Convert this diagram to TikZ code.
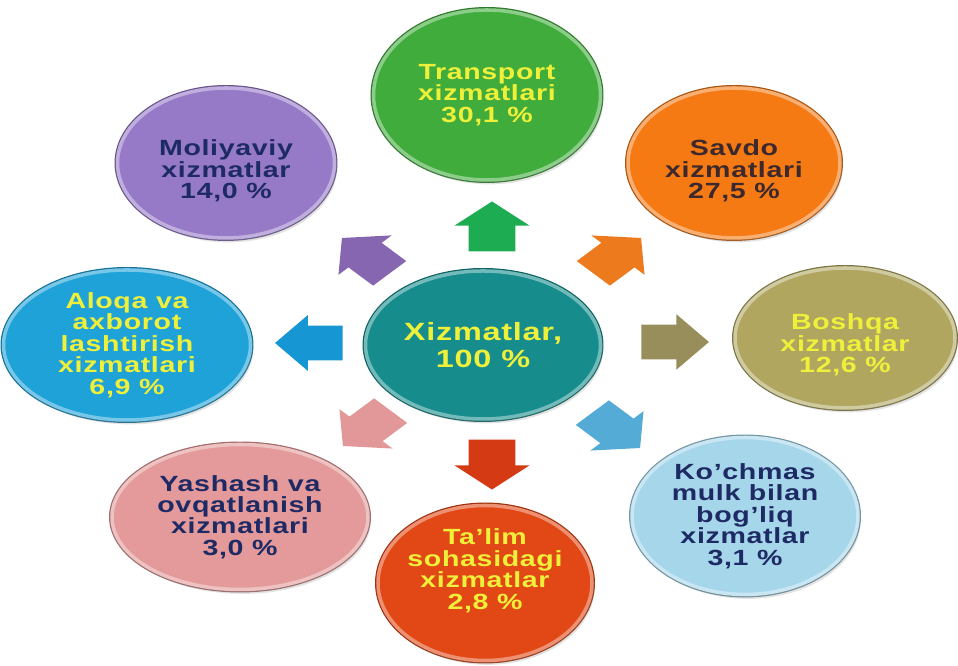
\documentclass[tikz,border=0pt]{standalone}
\usepackage{fontspec}
\newfontfamily\lblfont{Liberation Sans}[FakeStretch=1.3,LetterSpace=3]
\usetikzlibrary{shapes.geometric,shapes.arrows,shadows}
\definecolor{tealc}{RGB}{22,140,140}
\definecolor{greenc}{RGB}{64,172,60}
\definecolor{orangec}{RGB}{245,122,20}
\definecolor{olivec}{RGB}{176,166,96}
\definecolor{skyc}{RGB}{165,214,234}
\definecolor{redc}{RGB}{226,72,22}
\definecolor{pinkc}{RGB}{228,154,154}
\definecolor{bluec}{RGB}{30,162,216}
\definecolor{purplec}{RGB}{150,122,200}
\definecolor{txtyellow}{RGB}{238,240,58}
\definecolor{txtnavy}{RGB}{30,42,100}
\definecolor{txtbrown}{RGB}{60,40,45}
\definecolor{agreen}{RGB}{30,172,82}
\definecolor{apurple}{RGB}{134,102,176}
\definecolor{aorange}{RGB}{238,122,30}
\definecolor{ablue}{RGB}{22,150,210}
\definecolor{aolive}{RGB}{152,142,92}
\definecolor{apink}{RGB}{226,152,152}
\definecolor{ared}{RGB}{212,58,20}
\definecolor{asky}{RGB}{84,172,214}
\begin{document}
\begin{tikzpicture}[
    oval/.style={ellipse, fill=#1, draw=#1!60!white, line width=2pt,
        preaction={draw=#1!70!black, line width=3.4pt},
        drop shadow={shadow xshift=1.5pt, shadow yshift=-2.5pt, opacity=0.22},
        align=center, inner xsep=-10pt, inner ysep=-6pt,
        font=\lblfont\bfseries\fontsize{12.5}{12.2}\selectfont},
    blk/.style={single arrow, fill=#1, draw=none, inner xsep=0pt, inner ysep=0.34cm,
        minimum height=1.0cm, single arrow head extend=0.21cm,
        single arrow tip angle=98, xscale=1.35}]
    \useasboundingbox (0,0) rectangle (19.16,13.32);
    % centre
    \node[oval=tealc, minimum width=4.7cm, minimum height=2.96cm, text=txtyellow,
        font=\lblfont\bfseries\fontsize{14.2}{15.4}\selectfont] (ctr) at (9.66,6.42)
        {Xizmatlar,\\100 \%};

    % outer ovals, clockwise from the top
    \node[oval=greenc, minimum width=4.54cm, minimum height=3.4cm, text=txtyellow] (trans) at (9.74,11.42)
        {Transport\\xizmatlari\\30,1 \%};
    \node[oval=orangec, minimum width=4.24cm, minimum height=3.0cm, text=txtbrown] (savdo) at (14.68,10.06)
        {\rule{0pt}{18pt}Savdo\\xizmatlari\\27,5 \%};
    \node[oval=olivec, minimum width=4.4cm, minimum height=2.8cm, text=txtyellow] (boshqa) at (16.9,6.56)
        {\rule{0pt}{17pt}Boshqa\\xizmatlar\\12,6 \%};
    \node[oval=skyc, minimum width=4.52cm, minimum height=3.14cm, text=txtnavy] (kochmas) at (14.9,3.0)
        {Ko’chmas\\mulk bilan\\bog’liq\\xizmatlar\\3,1 \%};
    \node[oval=redc, minimum width=4.28cm, minimum height=3.1cm, text=txtyellow] (talim) at (9.7,1.66)
        {Ta’lim\\sohasidagi\\xizmatlar\\2,8 \%\rule[-16pt]{0pt}{16pt}};
    \node[oval=pinkc, minimum width=5.12cm, minimum height=2.9cm, text=txtnavy] (yashash) at (4.8,2.98)
        {Yashash va\\ovqatlanish\\xizmatlari\\3,0 \%};
    \node[oval=bluec, minimum width=4.94cm, minimum height=3.0cm, text=txtyellow] (aloqa) at (2.54,6.42)
        {Aloqa va\\axborot\\lashtirish\\xizmatlari\\6,9 \%};
    \node[oval=purplec, minimum width=4.34cm, minimum height=3.0cm, text=txtnavy] (moliya) at (4.52,10.06)
        {\rule{0pt}{18pt}Moliyaviy\\xizmatlar\\14,0 \%};

    % block arrows
    \node[blk=agreen, rotate=90] (aTrans) at (9.84,8.64) {};
    \node[blk=aorange, rotate=45] (aSavdo) at (12.2,8.1) {};
    \node[blk=aolive, rotate=0] (aBoshqa) at (13.3,6.48) {};
    \node[blk=asky, rotate=-45] (aKochmas) at (12.18,4.82) {};
    \node[blk=ared, rotate=-90] (aTalim) at (9.84,4.18) {};
    \node[blk=apink, rotate=-135] (aYashash) at (7.48,4.86) {};
    \node[blk=ablue, rotate=180] (aAloqa) at (6.38,6.46) {};
    \node[blk=apurple, rotate=135] (aMoliya) at (7.46,8.1) {};
\end{tikzpicture}
\end{document}
